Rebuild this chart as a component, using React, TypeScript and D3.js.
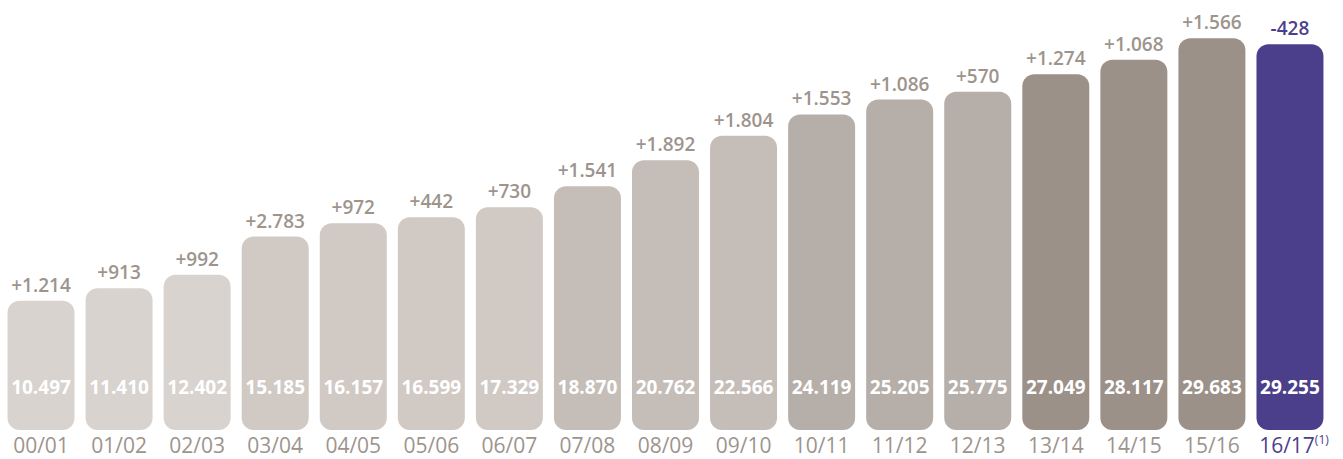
import React from "react";
import * as d3 from "d3";

const categories = ["00/01","01/02","02/03","03/04","04/05","05/06","06/07","07/08","08/09","09/10","10/11","11/12","12/13","13/14","14/15","15/16","16/17"];
const values = [10497,11410,12402,15185,16157,16599,17329,18870,20762,22566,24119,25205,25775,27049,28117,29683,29255];
const deltas = ["+1.214","+913","+992","+2.783","+972","+442","+730","+1.541","+1.892","+1.804","+1.553","+1.086","+570","+1.274","+1.068","+1.566","-428"];
const valueLabels = ["10.497","11.410","12.402","15.185","16.157","16.599","17.329","18.870","20.762","22.566","24.119","25.205","25.775","27.049","28.117","29.683","29.255"];
const groupColors = ["#d8d3cf","#d8d3cf","#d8d3cf","#d1c9c4","#d1c9c4","#d1c9c4","#d1c9c4","#c5bdb8","#c5bdb8","#c5bdb8","#b6aea8","#b6aea8","#b6aea8","#9b9189","#9b9189","#9b9189","#4b3f8c"];

const W = 1343, H = 459;
const PURPLE = "#4b3f8c";
const GREY_TEXT = "#9d948d";
const FONT = "'Open Sans', 'DejaVu Sans', sans-serif";

export default function App() {
  const x = d3.scaleBand<string>().domain(categories).range([2, 1329]).paddingInner(0.142).paddingOuter(0.071);
  const y = d3.scaleLinear().domain([1045, 29683]).range([430, 38.3]);
  const last = categories.length - 1;
  return (
    <svg width={W} height={H} style={{ position: "absolute", left: 0, top: 0, display: "block" }} fontFamily={FONT}>
      {categories.map((c, i) => {
        const x0 = x(c)!;
        const bw = x.bandwidth();
        const top = y(values[i]);
        const cx = x0 + bw / 2;
        const isLast = i === last;
        return (
          <g key={c}>
            <rect x={x0} y={top} width={bw} height={y.range()[0] - top} rx={12} ry={12} fill={groupColors[i]} />
            <text x={cx} y={top - 9} textAnchor="middle" fontSize={19} fontWeight={600} fill={isLast ? PURPLE : GREY_TEXT}>{deltas[i]}</text>
            <text x={cx} y={394} textAnchor="middle" fontSize={19} fontWeight={700} fill="#ffffff">{valueLabels[i]}</text>
            {isLast ? (
              <text x={cx + 4} y={453} textAnchor="middle" fontSize={21} fill={PURPLE}>
                <tspan>{c}</tspan>
                <tspan fontSize={12} dy={-9}>(1)</tspan>
              </text>
            ) : (
              <text x={cx} y={453} textAnchor="middle" fontSize={21} fill={GREY_TEXT}>{c}</text>
            )}
          </g>
        );
      })}
    </svg>
  );
}
